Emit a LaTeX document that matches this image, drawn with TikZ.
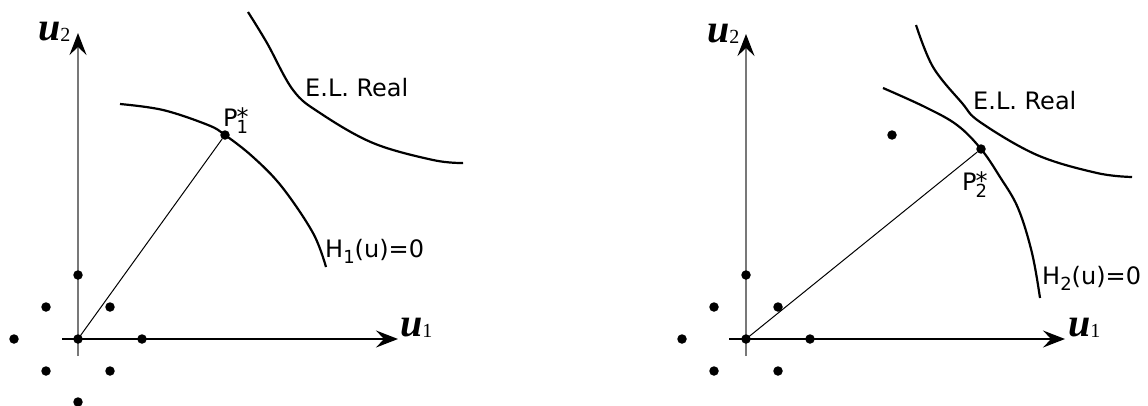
\documentclass[tikz,border=0pt]{standalone}
\usepackage{fontspec}
\setmainfont{DejaVu Sans}
\newfontfamily\timesbf{Liberation Serif}
\usetikzlibrary{arrows.meta}
\newcommand\Ulab[1]{{\timesbf\fontsize{40}{40}\selectfont\bfseries\itshape u}{\timesbf\fontsize{20}{20}\selectfont\raisebox{-1pt}{#1}}}
\newcommand\Psub[1]{P\kern-1pt\rlap{\raisebox{-7pt}{\fontsize{18}{18}\selectfont #1}}\raisebox{1pt}{*}}
\newcommand\Hsub[1]{H\raisebox{-6pt}{\fontsize{18}{18}\selectfont #1}(u)=0}
\tikzset{
  dot/.style={circle,fill=black,inner sep=0pt,minimum size=9.5pt},
  curve/.style={line width=2.2pt},
  ray/.style={line width=1pt},
  axtip/.style={-{Stealth[length=22pt,width=17pt,inset=8pt,color=black]}},
  haxis/.style={line width=1.6pt,axtip},
  vaxis/.style={line width=1.4pt,draw={rgb,255:red,120;green,120;blue,120},axtip},
  lab/.style={font=\fontsize{24}{24}\selectfont,inner sep=0pt,anchor=base west},
  ulab/.style={inner sep=0pt,anchor=base west}
}
\begin{document}
\begin{tikzpicture}[x=1pt,y=-1pt]
\useasboundingbox (0,0) rectangle (1148,405);
% ---------- left panel ----------
\coordinate (O1) at (78,339);
\coordinate (A1s) at (78,356);
\coordinate (A1t) at (78,33);
\coordinate (B1s) at (62,339);
\coordinate (B1t) at (398,339);
\draw[vaxis] (A1s) -- (A1t);
\draw[haxis] (B1s) -- (B1t);
\node[ulab] (u2a) at (38,40) {\Ulab{2}};
\node[ulab] (u1a) at (400,336) {\Ulab{1}};
\draw[curve] plot[smooth,tension=0.6] coordinates {(248,12) (267,43) (293,90) (320,113) (373,143) (433,160) (463,163)};
\draw[curve] plot[smooth,tension=0.6] coordinates {(120,104) (163,110) (208,125) (225,135) (253,157) (282,187) (313,233) (326,267)};
\node[dot] (P1) at (225,135) {};
\draw[ray] (O1) -- (P1);
\node[lab] (el1) at (305,96) {E.L. Real};
\node[lab] (p1l) at (223,126) {\Psub{1}};
\node[lab] (h1l) at (325,257) {\Hsub{1}};
\foreach \n/\p in {a/{(78,275)},b/{(46,307)},c/{(110,307)},d/{(14,339)},e/{(78,339)},f/{(142,339)},g/{(46,371)},h/{(110,371)},i/{(78,402)}}
  \node[dot] (L\n) at \p {};
% ---------- right panel ----------
\coordinate (O2) at (746,339);
\coordinate (A2s) at (746,356);
\coordinate (A2t) at (746,34);
\coordinate (B2s) at (729,339);
\coordinate (B2t) at (1065,339);
\draw[vaxis] (A2s) -- (A2t);
\draw[haxis] (B2s) -- (B2t);
\node[ulab] (u2b) at (707,42) {\Ulab{2}};
\node[ulab] (u1b) at (1068,336) {\Ulab{1}};
\draw[curve] plot[smooth,tension=0.6] coordinates {(916,25) (933,67) (962,103) (980,122) (1037,155) (1097,173) (1132,177)};
\draw[curve] plot[smooth,tension=0.6] coordinates {(883,88) (925,107) (957,125) (981,149) (1000,177) (1018,208) (1032,253) (1040,298)};
\node[dot] (P2) at (981,149) {};
\draw[ray] (O2) -- (P2);
\node[lab] (el2) at (973,109) {E.L. Real};
\node[lab] (p2l) at (962,190) {\Psub{2}};
\node[lab] (h2l) at (1042,284) {\Hsub{2}};
\foreach \n/\p in {a/{(746,275)},b/{(714,307)},c/{(778,307)},d/{(682,339)},e/{(746,339)},f/{(810,339)},g/{(714,371)},h/{(778,371)},x/{(892,135)}}
  \node[dot] (R\n) at \p {};
\end{tikzpicture}
\end{document}
